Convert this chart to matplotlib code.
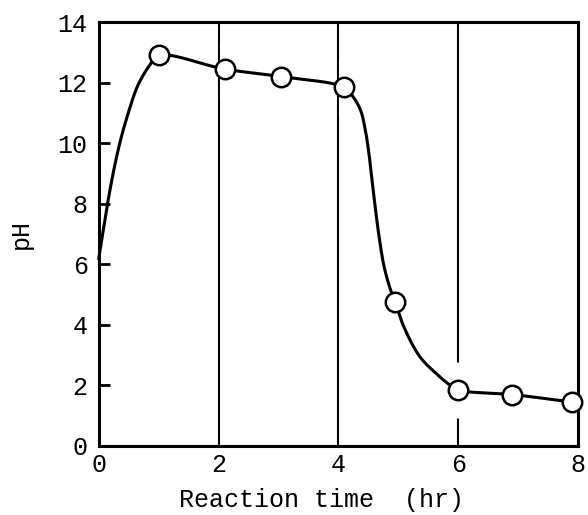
import numpy as np
import matplotlib
matplotlib.use("Agg")
import matplotlib.pyplot as plt

# measured points (hr, pH)
time = [1.0, 2.1, 3.05, 4.1, 4.95, 6.0, 6.9, 7.9]
ph = [12.9, 12.45, 12.2, 11.85, 4.75, 1.85, 1.7, 1.45]

# points
curve_t = [0.0, 0.2, 0.35, 0.5, 0.65, 0.84, 1.0, 2.1, 3.05, 4.1, 4.23, 4.37,
           4.45, 4.51, 4.56, 4.62, 4.68, 4.76, 4.86, 4.95, 5.09, 5.36, 5.64,
           5.85, 6.0, 6.9, 7.9]
curve_ph = [6.2, 8.6, 10.0, 11.05, 11.9, 12.55, 12.9, 12.45, 12.2, 11.85, 11.58, 11.09,
            10.43, 9.66, 8.8, 7.8, 6.9, 5.95, 5.22, 4.75, 3.95, 2.95, 2.38,
            2.03, 1.85, 1.7, 1.45]

x_ticks = [0, 2, 4, 6, 8]
y_ticks = [0, 2, 4, 6, 8, 10, 12, 14]


def smooth(x, y, sx, sy, n=30):
    # centripetal catmull-rom through the read points, only for drawing
    p = np.column_stack([np.asarray(x, float) * sx, np.asarray(y, float) * sy])
    p = np.vstack([2 * p[0] - p[1], p, 2 * p[-1] - p[-2]])
    out = []
    for k in range(1, len(p) - 2):
        p0, p1, p2, p3 = p[k - 1], p[k], p[k + 1], p[k + 2]
        t0 = 0.0
        t1 = t0 + np.linalg.norm(p1 - p0) ** 0.5
        t2 = t1 + np.linalg.norm(p2 - p1) ** 0.5
        t3 = t2 + np.linalg.norm(p3 - p2) ** 0.5
        t = np.linspace(t1, t2, n)[:, None]
        a1 = (t1 - t) / (t1 - t0) * p0 + (t - t0) / (t1 - t0) * p1
        a2 = (t2 - t) / (t2 - t1) * p1 + (t - t1) / (t2 - t1) * p2
        a3 = (t3 - t) / (t3 - t2) * p2 + (t - t2) / (t3 - t2) * p3
        b1 = (t2 - t) / (t2 - t0) * a1 + (t - t0) / (t2 - t0) * a2
        b2 = (t3 - t) / (t3 - t1) * a2 + (t - t1) / (t3 - t1) * a3
        c = (t2 - t) / (t2 - t1) * b1 + (t - t1) / (t2 - t1) * b2
        out.append(c)
    c = np.vstack(out)
    return c[:, 0] / sx, c[:, 1] / sy


plt.rcParams["font.family"] = ["Liberation Mono", "DejaVu Sans Mono"]

fig = plt.figure(figsize=(5.88, 5.15), dpi=100)
ax = fig.add_axes([0.168, 0.134, 0.815, 0.823])

ax.set_xlim(0, 8)
ax.set_ylim(0, 14)

# vertical guide lines
for xv in x_ticks[1:4]:
    ax.axvline(xv, color="black", lw=1.5, zorder=1)

# white gaps in the guide lines around the points
ax.plot(time, ph, linestyle="none", marker="|", markersize=40,
        markeredgewidth=8, color="white", zorder=1.5)

cx, cy = smooth(curve_t, curve_ph, 60.0, 30.0)
ax.plot(cx, cy, color="black", lw=2.2, zorder=3, clip_on=False)
ax.plot(time, ph, linestyle="none", marker="o", markersize=14,
        markerfacecolor="white", markeredgecolor="black",
        markeredgewidth=1.8, zorder=4, clip_on=False)

for s in ax.spines.values():
    s.set_linewidth(2.2)

ax.set_xticks(x_ticks)
ax.set_yticks(y_ticks)
ax.tick_params(axis="x", length=0, pad=5, labelsize=18)
ax.tick_params(axis="y", direction="in", length=8, width=2, pad=8, labelsize=18)

ax.set_xlabel("Reaction time  (hr)", fontsize=18)
ax.xaxis.set_label_coords(0.465, -0.1)
ax.set_ylabel("pH", fontsize=18, labelpad=18)

fig.savefig("out.png", dpi=100)
